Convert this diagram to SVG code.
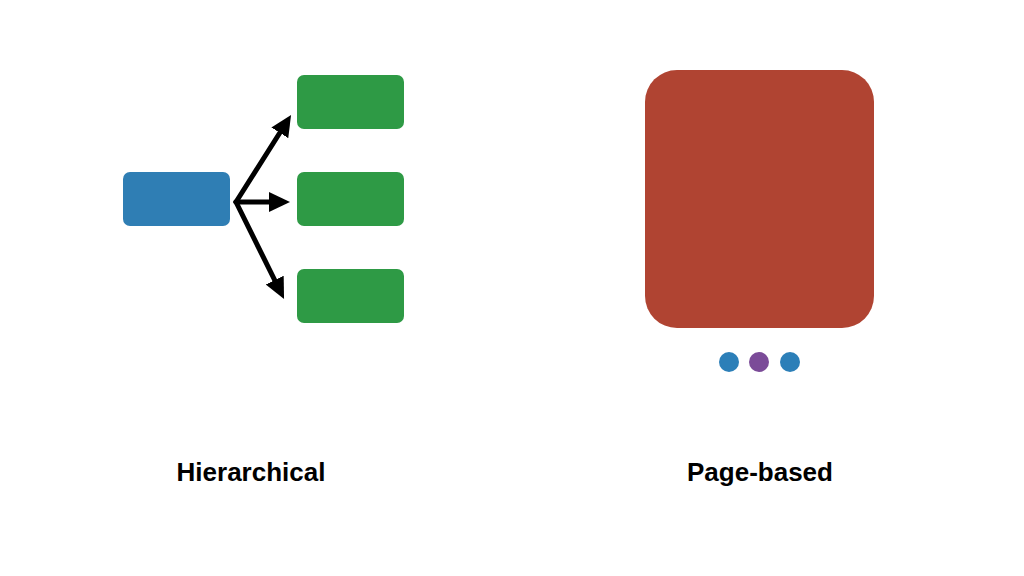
<svg xmlns="http://www.w3.org/2000/svg" width="1024" height="576" viewBox="0 0 1024 576">
<defs>
<style>
.lbl{font-family:"Liberation Sans",Arial,sans-serif;font-weight:bold;font-size:26px;fill:#000;text-anchor:middle}
.green{fill:#2E9A45}
.conn{stroke:#000;stroke-width:5;fill:none;stroke-linecap:round}
</style>
<marker id="ah" markerUnits="userSpaceOnUse" markerWidth="22" markerHeight="22" refX="11" refY="10" orient="auto" viewBox="0 0 22 22">
<path d="M0,0 L21,10 L0,20 Z" fill="#000"/>
</marker>
</defs>
<rect width="1024" height="576" fill="#fff"/>
<g id="root-node"><rect x="123" y="172" width="107" height="54" rx="7" fill="#2F7EB4"/></g>
<g id="child-1"><rect class="green" x="297" y="75" width="107" height="54" rx="7"/></g>
<g id="child-2"><rect class="green" x="297" y="172" width="107" height="54" rx="7"/></g>
<g id="child-3"><rect class="green" x="297" y="269" width="107" height="54" rx="7"/></g>
<g id="connectors">
<line class="conn" x1="236" y1="202" x2="285.7" y2="123.5" marker-end="url(#ah)"/>
<line class="conn" x1="236" y1="202" x2="280" y2="202" marker-end="url(#ah)"/>
<line class="conn" x1="236" y1="202" x2="279.6" y2="290" marker-end="url(#ah)"/>
</g>
<g id="page"><rect x="645" y="70" width="229" height="258" rx="32" fill="#B04432"/></g>
<g id="dots">
<circle cx="729" cy="362" r="10" fill="#2C7FB8"/>
<circle cx="759" cy="362" r="10" fill="#7B4B98"/>
<circle cx="790" cy="362" r="10" fill="#2C7FB8"/>
</g>
<g id="label-hierarchical"><text class="lbl" x="251" y="481">Hierarchical</text></g>
<g id="label-page"><text class="lbl" x="760" y="481">Page-based</text></g>
</svg>
